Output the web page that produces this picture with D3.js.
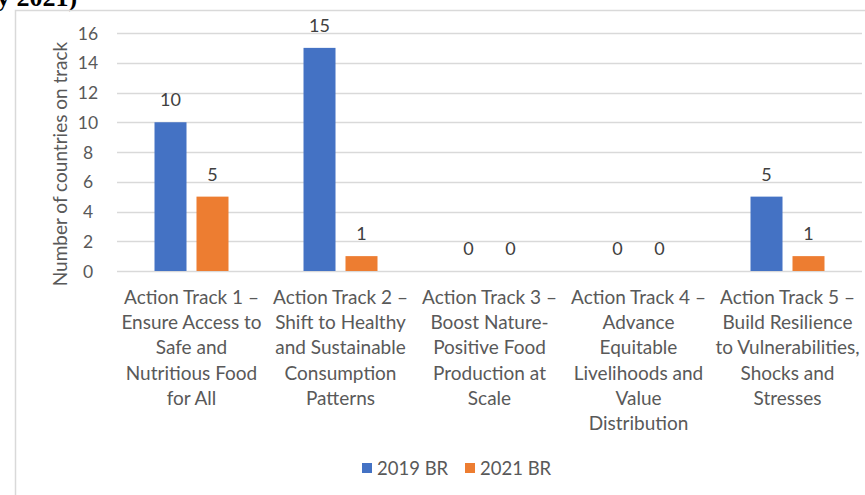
<!DOCTYPE html>
<html><head><meta charset="utf-8">
<script src="https://cdn.jsdelivr.net/npm/d3@7"></script>
<style>body{margin:0;background:#fff}svg{display:block}</style>
</head><body>
<script>
const categories = [
  ["Action Track 1 –","Ensure Access to","Safe and","Nutritious Food","for All"],
  ["Action Track 2 –","Shift to Healthy","and Sustainable","Consumption","Patterns"],
  ["Action Track 3 –","Boost Nature-","Positive Food","Production at","Scale"],
  ["Action Track 4 –","Advance","Equitable","Livelihoods and","Value","Distribution"],
  ["Action Track 5 –","Build Resilience","to Vulnerabilities,","Shocks and","Stresses"]
];
const seriesNames = ["2019 BR","2021 BR"];
const values2019 = [10, 15, 0, 0, 5];
const values2021 = [5, 1, 0, 0, 1];
const yTicks = [0,2,4,6,8,10,12,14,16];
const colors = ["#4472C4","#ED7D31"];

const W=865,H=495;
const svg=d3.select("body").append("svg").attr("width",W).attr("height",H);
const font="Lato, sans-serif";
const fs=17.5;
// cut-off title above
svg.append("text").attr("x",-3).attr("y",6).attr("font-family","'Liberation Serif', serif")
  .attr("font-weight","bold").attr("font-size",26).attr("fill","#000").text("y 2021)");
// chart border
svg.append("path").attr("d",`M15.5,${H} V10.5 H${W}`).attr("fill","none").attr("stroke","#d9d9d9").attr("stroke-width",1.5);

const x0=d3.scaleBand().domain(d3.range(categories.length)).range([117,862]);
const x1=d3.scaleBand().domain([0,1]).range([0,x0.bandwidth()]).paddingInner(0.238).paddingOuter(0.893);
const y=d3.scaleLinear().domain([0,16]).range([271,33]);

const g=svg.append("g");
g.selectAll("line.grid").data(yTicks).join("line")
  .attr("x1",117).attr("x2",862).attr("y1",d=>Math.round(y(d))+0.5).attr("y2",d=>Math.round(y(d))+0.5)
  .attr("stroke","#d9d9d9").attr("stroke-width",1.3);

const yAxis=d3.axisLeft(y).tickValues(yTicks).tickSize(0).tickPadding(0);
const ya=svg.append("g").attr("transform","translate(88,0)").call(yAxis);
ya.select(".domain").remove();
ya.selectAll("text").attr("font-family",font).attr("font-size",fs).attr("fill","#595959").attr("text-anchor","middle").attr("dy","0.35em");

svg.append("text").attr("transform",`translate(67,164) rotate(-90)`).attr("text-anchor","middle")
  .attr("font-family",font).attr("font-size",19).attr("fill","#595959").text("Number  of countries on track");

const series=[values2019,values2021];
series.forEach((vals,si)=>{
  g.selectAll(`rect.s${si}`).data(vals).join("rect")
    .attr("x",(d,i)=>x0(i)+x1(si)).attr("width",x1.bandwidth())
    .attr("y",d=>y(d)).attr("height",d=>y(0)-y(d)).attr("fill",colors[si]);
  g.selectAll(`text.l${si}`).data(vals).join("text")
    .attr("x",(d,i)=>x0(i)+x1(si)+x1.bandwidth()/2).attr("y",d=>y(d)-16)
    .attr("text-anchor","middle").attr("font-family",font).attr("font-size",18).attr("fill","#404040").text(d=>d);
});

const xa=svg.append("g");
categories.forEach((lines,i)=>{
  const t=xa.append("text").attr("text-anchor","middle").attr("font-family",font).attr("font-size",19).attr("fill","#595959");
  lines.forEach((ln,j)=>t.append("tspan").attr("x",x0(i)+x0.bandwidth()/2).attr("y",304+j*25.2).text(ln));
});

const leg=svg.append("g");
const legX=[362,465];
seriesNames.forEach((n,i)=>{
  leg.append("rect").attr("x",legX[i]).attr("y",463).attr("width",10).attr("height",10).attr("fill",colors[i]);
  leg.append("text").attr("x",legX[i]+15).attr("y",475).attr("font-family",font).attr("font-size",18.5).attr("fill","#595959").text(n);
});
</script>
</body></html>
